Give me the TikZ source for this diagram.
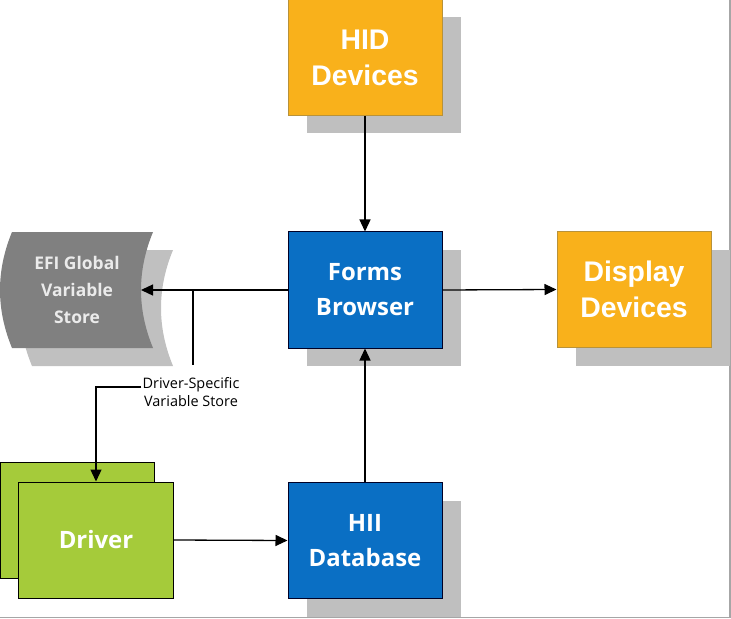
\documentclass[tikz,border=0pt]{standalone}
\usepackage{fontspec}
\setmainfont{Open Sans}
\newfontfamily\arialfont{Liberation Sans}
\usetikzlibrary{arrows.meta,shadows}
\definecolor{orng}{HTML}{F9B11B}
\definecolor{orngdark}{HTML}{B8923A}
\definecolor{hiblue}{HTML}{0A6FC4}
\definecolor{drvgreen}{HTML}{A5CB3A}
\definecolor{shgray}{HTML}{BFBFBF}
\definecolor{efifront}{HTML}{808080}
\definecolor{efiback}{HTML}{C0C0C0}
\definecolor{framegray}{HTML}{A6A6A6}
\begin{document}
\begin{tikzpicture}[x=1bp,y=-1bp,
  box/.style={minimum width=154bp, minimum height=116bp, inner sep=0pt, align=center, text=white, line width=1bp},
  shadowed/.style={drop shadow={shadow xshift=19bp, shadow yshift=-18bp, fill=shgray, opacity=1}},
  orangebox/.style={box, shadowed, fill=orng, draw=orngdark, font=\arialfont\bfseries\fontsize{28.5}{36}\selectfont},
  bluebox/.style={box, shadowed, fill=hiblue, draw=black!85!blue, font=\bfseries\fontsize{24}{35}\selectfont},
  greenbox/.style={box, fill=drvgreen, draw=black, font=\bfseries\fontsize{24}{35}\selectfont},
  efitext/.style={align=center, text=white!92!black, font=\bfseries\fontsize{17.5}{27}\selectfont},
  lbl/.style={align=center, inner xsep=1bp, inner ysep=12bp, font=\fontsize{14.5}{18}\selectfont},
  conn/.style={line width=1.3bp, -{Triangle[length=12bp,width=11bp]}},
  plain/.style={line width=1.3bp}
]
\useasboundingbox (0,0) rectangle (731,619);

% frame lines
\draw[framegray, line width=1.5bp] (0,617.5) -- (730,617.5) -- (730,0);

% EFI global variable store
\fill[efiback] (32,250) -- (173,250) .. controls (157,288.7) and (157,327.3) .. (173,366) -- (32,366) .. controls (16,327.3) and (16,288.7) .. (32,250) -- cycle;
\fill[efifront] (12,232) -- (153,232) .. controls (137,270.7) and (137,309.3) .. (153,348) -- (12,348) .. controls (-4,309.3) and (-4,270.7) .. (12,232) -- cycle;
\node[efitext] (efi) at (77,290) {EFI Global\\Variable\\Store};
\coordinate (efiR) at (141,290);

% boxes
\node[orangebox] (hid) at (365,57.5) {HID\\Devices};
\node[bluebox] (forms) at (365,290) {Forms\\Browser};
\node[orangebox] (disp) at (634,289.5) {Display\\Devices};
\node[bluebox] (hii) at (365,540.5) {HII\\Database};
\node[greenbox] (drvB) at (77.5,520.5) {};
\node[greenbox] (drv) at (96,540) {Driver};

% label
\node[lbl] (lab) at (191,392) {Driver-Specific\\Variable Store};
\coordinate (junc) at (193,290);

% connectors
\draw[conn] (hid.south) -- (forms.north);
\draw[conn] (forms.east) -- (disp.west);
\draw[conn] (hii.north) -- (forms.south);
\draw[conn] (drv.east) -- (hii.west);
\draw[conn] (forms.west) -- (efiR);
\draw[plain] (junc) -- (junc |- lab.north);
\draw[conn] ([yshift=5bp]lab.west) -| (drv.north);
\end{tikzpicture}
\end{document}
